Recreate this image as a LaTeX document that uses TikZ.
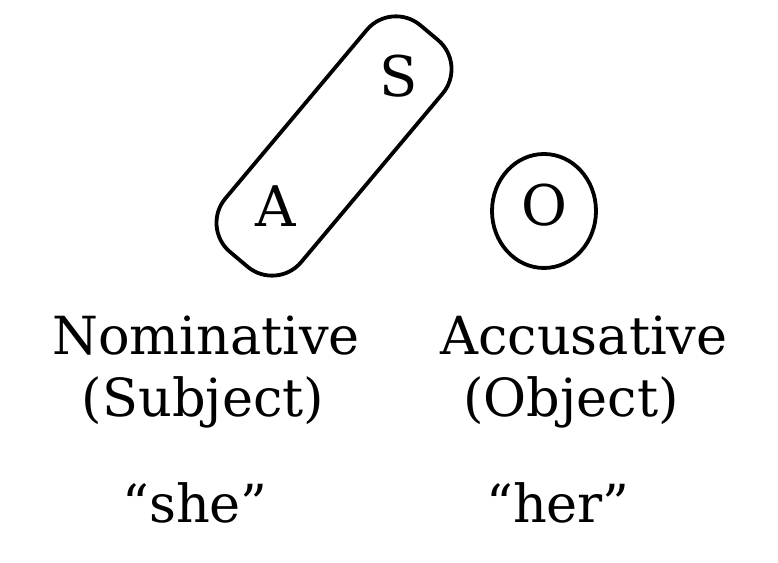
\documentclass[tikz,border=0pt]{standalone}
\usepackage{amsmath, amssymb}
\usepackage{fontspec}
\setmainfont{DejaVu Serif}
\usepackage{tikz}
\usetikzlibrary{shapes.geometric}

\begin{document}
\begin{tikzpicture}[x=1pt, y=1pt,
        ring/.style={draw, line width=3.8pt, inner sep=0pt},
        role/.style={anchor=base, font=\fontsize{56}{56}\selectfont},
        label/.style={anchor=base, font=\fontsize{52.5}{60}\selectfont}]
                        \useasboundingbox (0, 0) rectangle (778, 562);
                        % A and S share one ring, O stands apart
                        \node[ring, rectangle, rounded corners=38pt, minimum width=296pt, minimum height=99pt, rotate=50] (AS) at (334, 416){};
                        \node[ring, ellipse, minimum width=104pt, minimum height=114pt] (Oring) at (544, 351){};
                        \node[role] (A) at (276, 335){A};
                        \node[role] (S) at (399, 465){S};
                        \node[role] (O) at (544, 336){O};
                        % case names
                        \node[label] (nom) at (206, 207){Nominative};
                        \node[label] (subj) at (203, 145){(Subject)};
                        \node[label] (she) at (195, 40){“she”};
                        \node[label] (acc) at (584, 207){Accusative};
                        \node[label] (obj) at (571, 145){(Object)};
                        \node[label] (her) at (558, 40){“her”};
                \end{tikzpicture}
\end{document}
